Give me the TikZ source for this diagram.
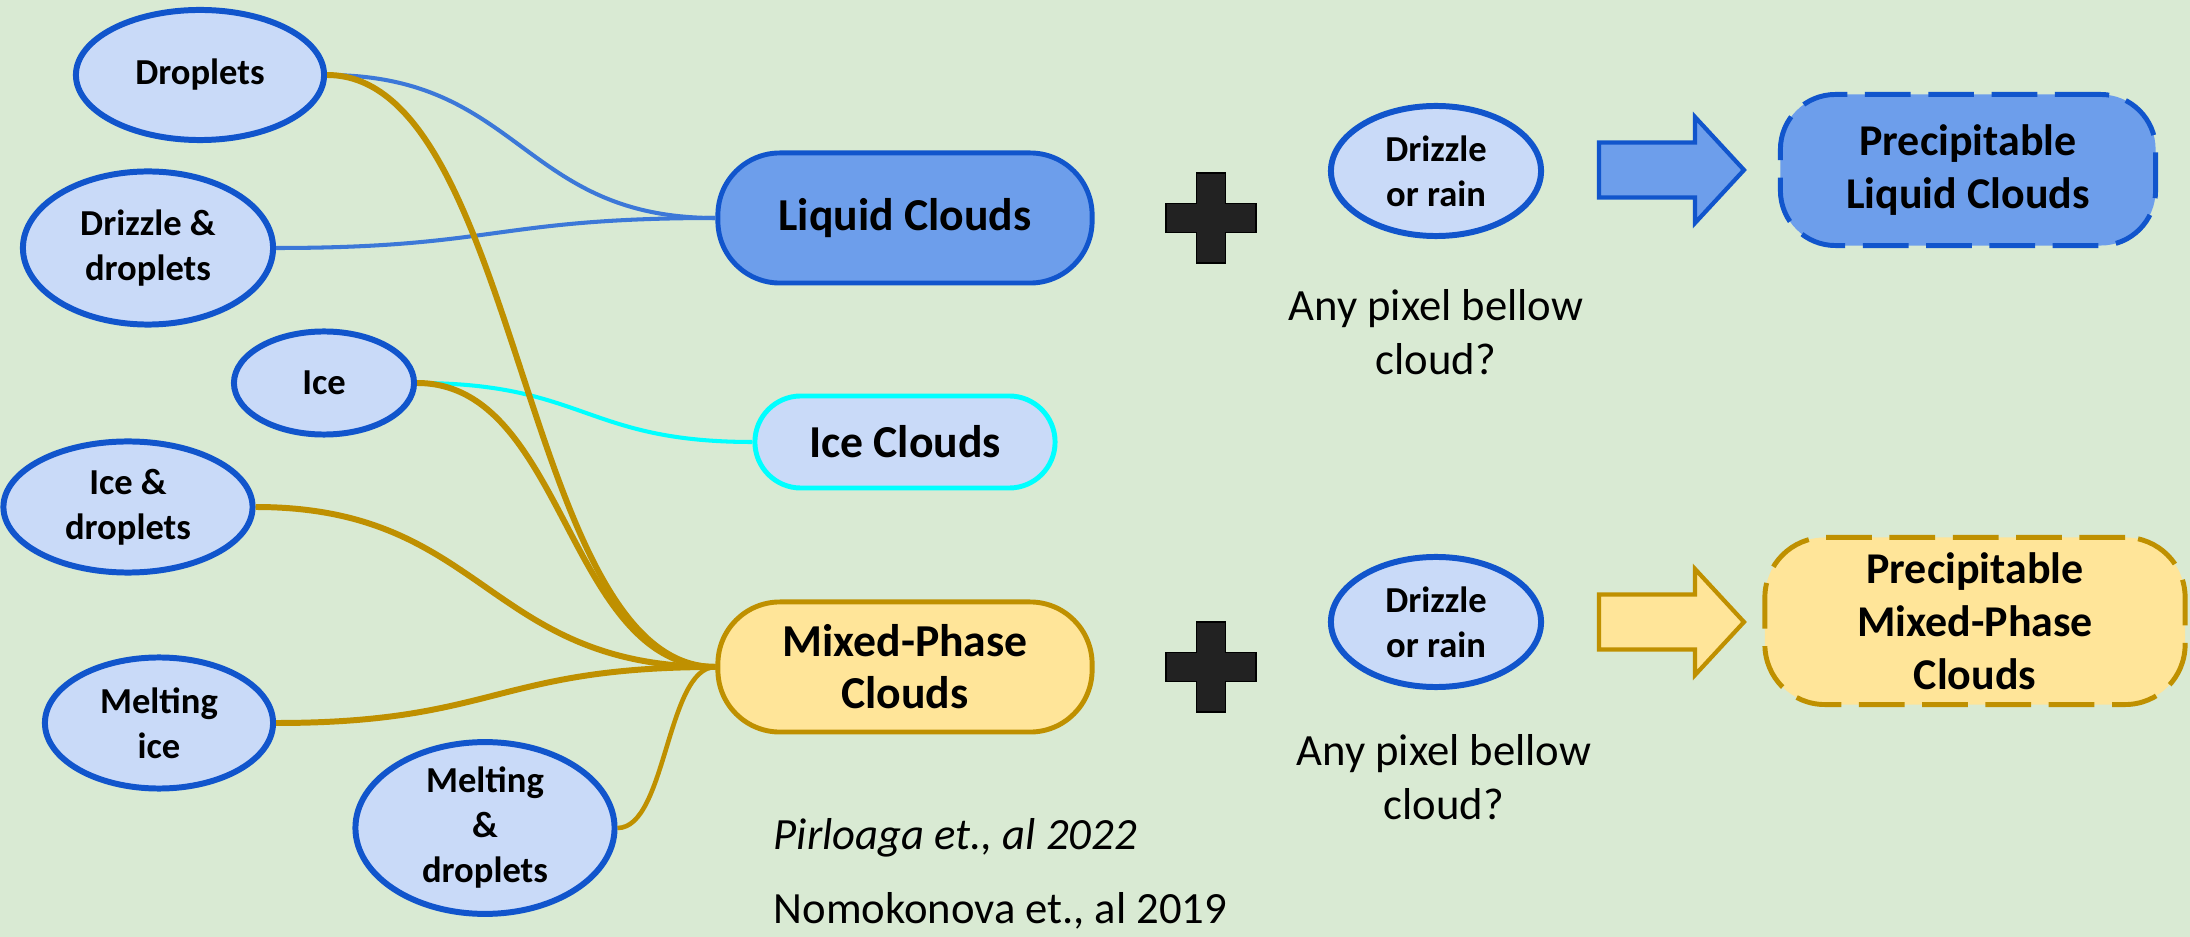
\documentclass[tikz,border=0pt]{standalone}
\usepackage{fontspec}
\setmainfont{Carlito}
\usetikzlibrary{shapes.geometric, calc, positioning}
\definecolor{bggreen}{HTML}{D9EAD3}
\definecolor{lightblue}{HTML}{C9DAF8}
\definecolor{darkblue}{HTML}{1155CC}
\definecolor{midblue}{HTML}{6D9EEB}
\definecolor{linkblue}{HTML}{3C78D8}
\definecolor{icecyan}{HTML}{00FFFF}
\definecolor{gold}{HTML}{BF9000}
\definecolor{lightgold}{HTML}{FFE599}
\definecolor{plusgray}{HTML}{222222}

\begin{document}
\begin{tikzpicture}[
  x=0.01cm, y=-0.01cm,
  font=\fontsize{12.7}{15.4}\selectfont,
  bubble/.style={ellipse, draw=darkblue, fill=lightblue, line width=1.7pt,
                 inner sep=0pt, align=center,
                 font=\fontsize{10.4}{12.8}\selectfont\bfseries},
  cloudbox/.style={rectangle, rounded corners=0.62cm, line width=1.4pt,
                   minimum width=3.74cm, minimum height=1.30cm, align=center,
                   font=\fontsize{13}{14.8}\selectfont\bfseries},
  precbox/.style={rectangle, rounded corners=0.55cm, line width=1.4pt,
                  dash pattern=on 13pt off 5pt, align=center,
                  font=\fontsize{12.5}{15}\selectfont\bfseries},
  note/.style={align=center, inner sep=0pt},
  cite/.style={anchor=base west, inner sep=0pt},
  blueln/.style={linkblue, line width=1.15pt},
  cyanln/.style={icecyan, line width=1.15pt},
  goldln/.style={gold, line width=1.7pt},
  link/.style={to path={let \p1=(\tikztostart), \p2=(\tikztotarget),
      \n1={0.5*(\x2-\x1)} in (\tikztostart)
      .. controls +({\n1*1pt},0) and +({-\n1*1pt},0) .. (\tikztotarget)}},
  pics/plussign/.style={code={
    \draw[pic actions, line width=0.5pt]
      (-14.5,-45) -- (14.5,-45) -- (14.5,-14.5) -- (45,-14.5) -- (45,14.5)
      -- (14.5,14.5) -- (14.5,45) -- (-14.5,45) -- (-14.5,14.5)
      -- (-45,14.5) -- (-45,-14.5) -- (-14.5,-14.5) -- cycle;}},
  pics/fatarrow/.style={code={
    \draw[pic actions, line width=1.2pt, line join=miter]
      (0,-27.5) -- (96,-27.5) -- (96,-53) -- (145,0) -- (96,53)
      -- (96,27.5) -- (0,27.5) -- cycle;}}
]
\useasboundingbox (0,0) rectangle (2190,937);
\fill[bggreen] (0,0) rectangle (2190,937);

% particle types
\node (drops) [bubble, minimum width=2.48cm, minimum height=1.30cm]
  at (200,75) {Droplets};
\node (drizdrops) [bubble, minimum width=2.50cm, minimum height=1.53cm]
  at (148,248) {Drizzle \&\\droplets};
\node (ice) [bubble, minimum width=1.80cm, minimum height=1.03cm]
  at (324,383) {Ice};
\node (icedrops) [bubble, minimum width=2.49cm, minimum height=1.31cm]
  at (128,507) {Ice \&\\droplets};
\node (meltice) [bubble, minimum width=2.28cm, minimum height=1.31cm]
  at (159,723) {Melting\\ice};
\node (meltdrops) [bubble, minimum width=2.59cm, minimum height=1.53cm]
  at (485,828) {Melting\\\&\\droplets};

% cloud classes
\node (liquid) [cloudbox, fill=midblue, draw=darkblue] at (905,218)
  {Liquid Clouds};
\node (iceclouds) [cloudbox, fill=lightblue, draw=icecyan,
  minimum width=3.00cm, minimum height=0.92cm, rounded corners=0.46cm]
  at (905,442) {Ice Clouds};
\node (mixed) [cloudbox, fill=lightgold, draw=gold] at (905,667)
  {Mixed-Phase\\Clouds};

% precipitation check
\pic[fill=plusgray, draw=black] at (1211,218) {plussign};
\pic[fill=plusgray, draw=black] at (1211,667) {plussign};
\node (rain1) [bubble, minimum width=2.10cm, minimum height=1.30cm]
  at (1436,171) {Drizzle\\or rain};
\node (rain2) [bubble, minimum width=2.10cm, minimum height=1.30cm]
  at (1436,622) {Drizzle\\or rain};
\node (any1) [note] at (1436,332) {Any pixel bellow\\cloud?};
\node (any2) [note] at (1444,777) {Any pixel bellow\\cloud?};
\pic[fill=midblue, draw=darkblue] at (1599,170) {fatarrow};
\pic[fill=lightgold, draw=gold] at (1599,622) {fatarrow};
\node (precliq) [precbox, fill=midblue, draw=darkblue,
  minimum width=3.75cm, minimum height=1.51cm] at (1968,170)
  {Precipitable\\Liquid Clouds};
\node (precmix) [precbox, fill=lightgold, draw=gold,
  minimum width=4.20cm, minimum height=1.67cm, rounded corners=0.6cm]
  at (1975,621) {Precipitable\\Mixed-Phase\\Clouds};

% references
\node (pirl) [cite, font=\fontsize{12.7}{15.4}\selectfont\itshape]
  at (773,850) {Pirloaga et., al 2022};
\node (nomo) [cite] at (773,923) {Nomokonova et., al 2019};

% connectors
\draw[blueln] (drops.east) to[link] (liquid.west);
\draw[blueln] (drizdrops.east) to[link] (liquid.west);
\draw[cyanln] (ice.east) to[link] (iceclouds.west);
\draw[goldln] (drops.east) to[link] (mixed.west);
\draw[goldln] (ice.east) to[link] (mixed.west);
\draw[goldln] (icedrops.east) to[link] (mixed.west);
\draw[goldln] (meltice.east) to[link] (mixed.west);
\draw[goldln, line width=1.3pt] (meltdrops.east) to[link] (mixed.west);
\end{tikzpicture}
\end{document}
